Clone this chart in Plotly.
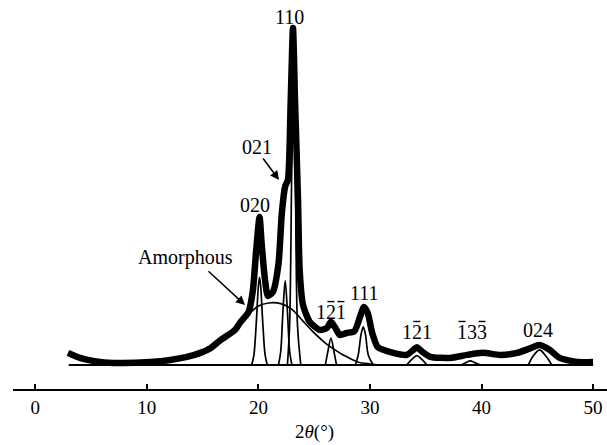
import plotly.graph_objects as go

# ---- Data (2theta in degrees, intensity in arbitrary units) ----
total_x = [2.93, 4.0, 5.8, 7.6, 10.3, 12.1, 13.6, 14.8, 15.7, 16.6, 17.9, 18.4, 19.1, 19.5, 19.8,
           20.1, 20.3, 20.6, 20.85, 21.3, 21.8, 22.1, 22.4, 22.65, 22.9, 23.1, 23.28, 23.55, 23.7,
           24.0, 24.6, 25.5, 26.15, 26.5, 26.9, 27.3, 27.9, 28.6, 29.1, 29.46, 29.8, 30.2, 30.7,
           32.1, 33.3, 33.9, 34.2, 34.7, 35.4, 37.2, 38.7, 40.1, 41.7, 43.2, 44.4, 45.2, 46.1,
           47.0, 48.6, 50.0]
total_y = [3.6, 2.1, 0.9, 0.6, 0.9, 1.5, 2.4, 3.6, 5.0, 7.4, 10.4, 12.8, 15.6, 22.0, 34.0,
           43.9, 35.6, 25.0, 20.5, 21.7, 30.0, 45.0, 53.0, 55.0, 79.0, 100.0, 78.6, 49.0, 28.0,
           17.8, 12.8, 10.4, 11.0, 12.8, 11.0, 8.9, 9.5, 10.0, 14.2, 17.2, 15.4, 9.5, 5.3,
           3.6, 3.0, 4.5, 5.3, 3.9, 2.4, 2.1, 3.0, 3.6, 3.0, 3.6, 5.0, 5.9, 4.5,
           2.1, 0.9, 0.9]

amorph_x = [10.0, 12.0, 13.6, 14.8, 15.7, 16.6, 17.9, 18.4, 19.1, 20.0, 20.9, 22.0, 23.0, 24.0,
            25.0, 26.0, 27.0, 27.6, 28.9, 30.0, 31.0]
amorph_y = [0.5, 1.2, 2.2, 3.4, 4.8, 7.0, 10.2, 12.3, 15.0, 17.5, 18.4, 18.2, 16.5, 13.0,
            9.5, 6.5, 4.2, 3.0, 0.9, 0.3, 0.0]

peak_020_x = [19.4, 19.6, 19.8, 20.0, 20.1, 20.2, 20.4, 20.6, 20.8]
peak_020_y = [0.0, 3.0, 12.0, 23.5, 26.0, 23.5, 12.0, 3.0, 0.0]

peak_021_x = [21.8, 22.0, 22.2, 22.4, 22.6, 22.8, 23.0]
peak_021_y = [0.0, 4.0, 16.0, 25.0, 16.0, 4.0, 0.0]

peak_110_x = [22.6, 22.8, 23.0, 23.15, 23.3, 23.5, 23.8]
peak_110_y = [0.0, 12.0, 60.0, 80.0, 60.0, 12.0, 0.0]

peak_121b_x = [26.0, 26.2, 26.5, 26.8, 27.0]
peak_121b_y = [0.0, 3.5, 8.0, 3.5, 0.0]

peak_111_x = [28.7, 28.95, 29.2, 29.4, 29.6, 29.85, 30.3]
peak_111_y = [0.0, 3.0, 9.0, 11.3, 9.0, 3.0, 0.0]

peak_1b21_x = [33.3, 33.7, 34.2, 34.7, 35.1]
peak_1b21_y = [0.0, 1.5, 2.8, 1.5, 0.0]

peak_133_x = [38.2, 38.6, 39.0, 39.4, 39.9]
peak_133_y = [0.0, 0.7, 1.2, 0.7, 0.0]

peak_024_x = [44.2, 44.6, 45.2, 45.8, 46.3]
peak_024_y = [0.0, 2.5, 4.5, 2.5, 0.0]

base_x = [3.0, 50.0]
base_y = [0.0, 0.0]

tick_vals = [0, 10, 20, 30, 40, 50]
tick_text = ["0", "10", "20", "30", "40", "50"]

# Miller-index labels; overbar_* lists mark which digit (0-based) carries a bar
labels = ["110", "021", "020", "Amorphous", "121", "111", "121", "133", "024"]
label_x = [22.83, 19.87, 19.69, 13.5, 26.5, 29.55, 34.2, 39.15, 45.06]
label_y = [103.3, 64.7, 47.5, 31.8, 15.7, 21.4, 9.8, 9.8, 10.4]
overbar_label = [4, 4, 6, 7, 7]
overbar_char = [1, 2, 1, 0, 2]

arrow_tail_x = [20.32, 15.39]
arrow_tail_y = [61.7, 28.2]
arrow_head_x = [21.85, 18.8]
arrow_head_y = [54.9, 17.8]

FONT = "Liberation Serif"
FSIZE = 20
DIGIT_W = FSIZE * 0.5

fig = go.Figure()

thin = dict(color="black", width=1.7, shape="spline", smoothing=0.9)
for xs, ys in [(amorph_x, amorph_y), (peak_020_x, peak_020_y), (peak_021_x, peak_021_y),
               (peak_110_x, peak_110_y), (peak_121b_x, peak_121b_y), (peak_111_x, peak_111_y),
               (peak_1b21_x, peak_1b21_y), (peak_133_x, peak_133_y), (peak_024_x, peak_024_y)]:
    fig.add_trace(go.Scatter(x=xs, y=ys, mode="lines", line=thin, hoverinfo="skip"))

fig.add_trace(go.Scatter(x=base_x, y=base_y, mode="lines",
                         line=dict(color="black", width=2), hoverinfo="skip"))
fig.add_trace(go.Scatter(x=total_x, y=total_y, mode="lines",
                         line=dict(color="black", width=6.5, shape="spline", smoothing=0.6),
                         hoverinfo="skip"))

annotations = []
for t, x, y in zip(labels, label_x, label_y):
    annotations.append(dict(x=x, y=y, xref="x", yref="y", text=t, showarrow=False,
                            font=dict(family=FONT, size=FSIZE, color="black"),
                            xanchor="center", yanchor="middle"))
for tx, ty, hx, hy in zip(arrow_tail_x, arrow_tail_y, arrow_head_x, arrow_head_y):
    annotations.append(dict(x=hx, y=hy, ax=tx, ay=ty, xref="x", yref="y", axref="x", ayref="y",
                            text="", showarrow=True, arrowhead=2, arrowsize=1.2,
                            arrowwidth=1.5, arrowcolor="black"))
annotations.append(dict(x=25, y=-0.112, xref="x", yref="paper",
                        text="2<i>\u03b8</i>(\u00b0)", showarrow=False,
                        font=dict(family=FONT, size=19, color="black"),
                        xanchor="center", yanchor="middle"))

# overbars drawn as small text-decoration strokes anchored on the labels
shapes = []
for li, ci in zip(overbar_label, overbar_char):
    n = len(labels[li])
    off = (ci - (n - 1) / 2) * DIGIT_W
    shapes.append(dict(type="line", xref="x", yref="y",
                       xsizemode="pixel", xanchor=label_x[li],
                       ysizemode="pixel", yanchor=label_y[li],
                       x0=off - 3.5, x1=off + 3.5, y0=10.5, y1=10.5,
                       line=dict(color="black", width=1.4)))

fig.update_layout(
    width=607, height=445,
    margin=dict(l=13, r=0, t=5, b=56),
    paper_bgcolor="white", plot_bgcolor="white",
    showlegend=False,
    annotations=annotations,
    shapes=shapes,
    xaxis=dict(range=[-2, 51.25], tickvals=tick_vals, ticktext=tick_text,
               ticks="inside", ticklen=5, tickwidth=1.5, tickcolor="black",
               showline=True, linecolor="black", linewidth=1.5,
               showgrid=False, zeroline=False,
               tickfont=dict(family=FONT, size=19, color="black")),
    yaxis=dict(range=[-7.12, 106.8], visible=False, showgrid=False, zeroline=False),
)

fig.write_html("out.html")
